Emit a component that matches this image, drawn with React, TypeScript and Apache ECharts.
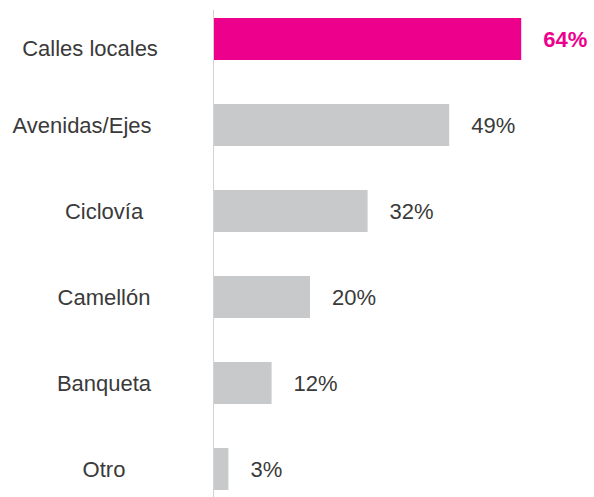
import React, { useEffect, useRef } from "react";
import * as echarts from "echarts";

const categories = ["Calles locales", "Avenidas/Ejes", "Ciclovía", "Camellón", "Banqueta", "Otro"];
const values = [64, 49, 32, 20, 12, 3];
const highlightIndex = 0;

const FONT = "'Liberation Sans', Helvetica, Arial, sans-serif";
const MAGENTA = "#ec008c";
const GRAY = "#c8c9cb";
const TEXT = "#3a3a3a";

export default function App() {
  const ref = useRef<HTMLDivElement>(null);
  useEffect(() => {
    if (!ref.current) return;
    const chart = echarts.init(ref.current, null, { renderer: "svg" });
    chart.setOption({
      animation: false,
      backgroundColor: "#ffffff",
      grid: { left: 214, top: -4, height: 516, width: 360, outerBoundsMode: "none", containLabel: false },
      xAxis: { type: "value", min: 0, max: 75, show: false },
      yAxis: {
        type: "category",
        data: categories,
        inverse: true,
        axisLine: { show: false },
        axisTick: { show: false },
        splitLine: { show: false },
        axisLabel: {
          margin: 110,
          align: "center",
          fontSize: 22,
          color: TEXT,
          fontFamily: FONT,
          formatter: (v: string, i: number) =>
            i === 0 ? `{a|${v}}` : i === 1 ? `{b|${v}}` : `{n|${v}}`,
          rich: {
            a: { fontSize: 22, color: TEXT, fontFamily: FONT, padding: [18, 28, 0, 0] },
            b: { fontSize: 22, color: TEXT, fontFamily: FONT, padding: [0, 44, 0, 0] },
            n: { fontSize: 22, color: TEXT, fontFamily: FONT },
          },
        },
      },
      graphic: [
        {
          type: "line",
          shape: { x1: 213.5, y1: 10, x2: 213.5, y2: 497 },
          style: { stroke: "#d2d2d2", lineWidth: 1 },
          silent: true,
        },
      ],
      series: [
        {
          type: "bar",
          barWidth: 42,
          data: values.map((v, i) =>
            i === highlightIndex
              ? {
                  value: v,
                  itemStyle: { color: MAGENTA },
                  label: { color: MAGENTA, fontWeight: "bold" },
                }
              : { value: v }
          ),
          itemStyle: { color: GRAY },
          label: {
            show: true,
            position: "right",
            distance: 22,
            formatter: "{c}%",
            fontSize: 22,
            color: TEXT,
            fontFamily: FONT,
          },
        },
      ],
    });
    return () => chart.dispose();
  }, []);
  return (
    <div
      ref={ref}
      style={{ position: "absolute", left: 0, top: 0, width: 594, height: 497 }}
    />
  );
}
